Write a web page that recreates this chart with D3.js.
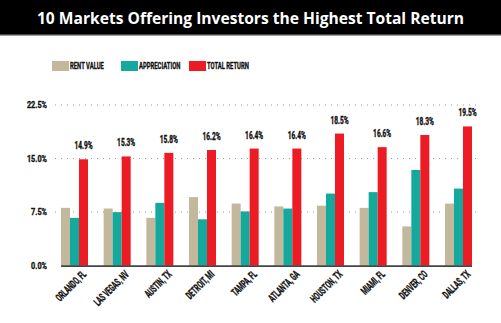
<!DOCTYPE html>
<html>
<head>
<meta charset="utf-8">
<script src="https://cdn.jsdelivr.net/npm/d3@7"></script>
<style>
  body { margin: 0; background: #fff; }
  svg { display: block; }
  .narrow { font-family: Roboto, "DejaVu Sans", sans-serif; font-weight: bold; fill: #111; stroke: #111; stroke-width: 0.35px; }
</style>
</head>
<body>
<script>
"use strict";

const markets = ["ORLANDO, FL", "LAS VEGAS, NV", "AUSTIN, TX", "DETROIT, MI", "TAMPA, FL",
                 "ATLANTA, GA", "HOUSTON, TX", "MIAMI, FL", "DENVER, CO", "DALLAS, TX"];
const rent_value   = [8.1, 8.0, 6.7, 9.6, 8.7, 8.3, 8.4, 8.1, 5.5, 8.7];
const appreciation = [6.7, 7.5, 8.8, 6.5, 7.6, 8.0, 10.1, 10.3, 13.4, 10.8];
const total_return = [14.9, 15.3, 15.8, 16.2, 16.4, 16.4, 18.5, 16.6, 18.3, 19.5];
const y_ticks = [0, 7.5, 15, 22.5];
const series_names = ["RENT VALUE", "APPRECIATION", "TOTAL RETURN"];
const series_colors = ["#c3b79c", "#14a99d", "#ed1c24"];

const wSvg = 501, hSvg = 323;

let svg = d3.select("body").append("svg")
    .attr("width", wSvg).attr("height", hSvg);

// squeezed bold text, stands in for a condensed face
function narrow_text (sel, size) {
    return sel.append("text")
        .attr("class", "narrow")
        .style("font-size", size + "px");
}
function place (x, y, sx, angle) {
    return `translate(${x}, ${y})` + (angle ? ` rotate(${angle})` : "") + ` scale(${sx}, 1)`;
}

// title band
svg.append("rect")
    .attr("x", 0).attr("y", 0)
    .attr("width", wSvg).attr("height", 35)
    .attr("fill", "#000");
svg.append("rect")
    .attr("x", 0).attr("y", 34)
    .attr("width", wSvg).attr("height", 1.5)
    .attr("fill", "#444");
svg.append("text")
    .attr("x", wSvg / 2).attr("y", 23.5)
    .attr("text-anchor", "middle")
    .attr("fill", "#fff")
    .style("font-family", "'Open Sans', sans-serif")
    .style("font-weight", "bold")
    .style("font-size", "15.6px")
    .text("10 Markets Offering Investors the Highest Total Return");

// legend
let legendX = [52, 121, 189];
let legend = svg.append("g");
series_names.forEach((name, i) => {
    legend.append("rect")
        .attr("x", legendX[i]).attr("y", 61)
        .attr("width", 17).attr("height", 10)
        .attr("fill", series_colors[i]);
    narrow_text(legend, 9.8)
        .attr("transform", place(legendX[i] + 18, 68.8, 0.6))
        .text(name);
});

// scales
let xScale = d3.scaleBand()
    .domain(markets)
    .range([61, 472])
    .paddingInner(0.367)
    .paddingOuter(0);

let xInner = d3.scaleBand()
    .domain(d3.range(3))
    .range([0, xScale.bandwidth()]);

let yScale = d3.scaleLinear()
    .domain([0, 22.5])
    .range([265.7, 105]);

// dotted grid + tick labels
let grid = svg.append("g");
y_ticks.filter(t => t > 0).forEach(t => {
    grid.append("line")
        .attr("x1", 55).attr("x2", 477)
        .attr("y1", yScale(t)).attr("y2", yScale(t))
        .attr("stroke", "#999")
        .attr("stroke-width", 1)
        .attr("stroke-dasharray", "1,5");
});
y_ticks.forEach(t => {
    narrow_text(grid, 8.6)
        .attr("text-anchor", "end")
        .attr("transform", place(47, yScale(t) + 3, 0.85))
        .text(t.toFixed(1) + "%");
});

// bars
let rows = markets.map((m, i) => ({
    market: m,
    values: [rent_value[i], appreciation[i], total_return[i]]
}));

let groups = svg.append("g")
    .selectAll("g")
    .data(rows)
    .enter()
    .append("g")
    .attr("transform", d => `translate(${xScale(d.market)}, 0)`);

groups.selectAll("rect")
    .data(d => d.values)
    .enter()
    .append("rect")
    .attr("x", (d, i) => xInner(i))
    .attr("y", d => yScale(d))
    .attr("width", xInner.bandwidth())
    .attr("height", d => yScale(0) - yScale(d))
    .attr("fill", (d, i) => series_colors[i]);

// total return value labels
groups.each(function (d) {
    narrow_text(d3.select(this), 10)
        .attr("text-anchor", "middle")
        .attr("transform", place(xInner(2) + xInner.bandwidth() / 2, yScale(d.values[2]) - 10, 0.66))
        .text(d.values[2].toFixed(1) + "%");
});

// baseline
svg.append("line")
    .attr("x1", 61).attr("x2", 472)
    .attr("y1", yScale(0) + 0.5).attr("y2", yScale(0) + 0.5)
    .attr("stroke", "#444")
    .attr("stroke-width", 1.8);

// rotated market names
groups.each(function (d) {
    narrow_text(d3.select(this), 10.8)
        .attr("text-anchor", "end")
        .attr("transform", place(xScale.bandwidth() - 1, 275, 0.58, -45))
        .text(d.market);
});
</script>
</body>
</html>
